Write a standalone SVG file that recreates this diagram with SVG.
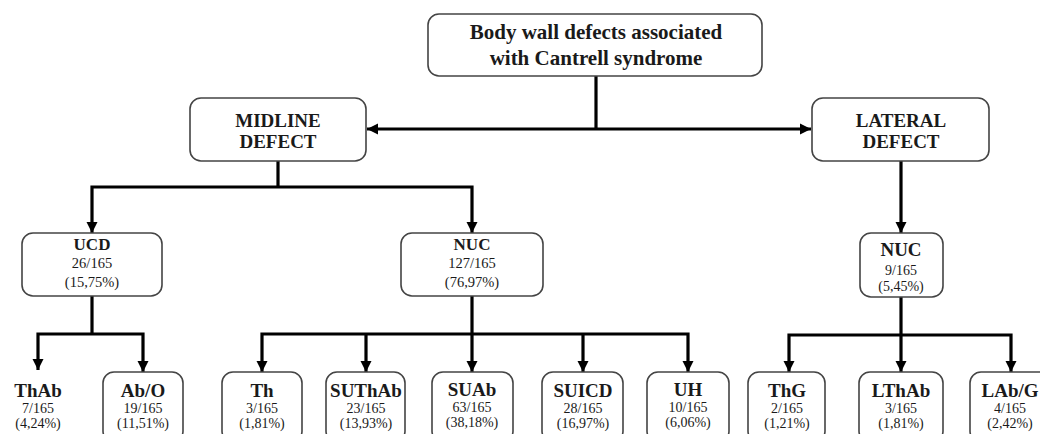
<svg xmlns="http://www.w3.org/2000/svg" width="1040" height="434" viewBox="0 0 1040 434">
<style>
.box{fill:#fff;stroke:#444;stroke-width:1.6}
.ln{fill:none;stroke:#000;stroke-width:3.2}
text{font-family:"Liberation Serif","Times New Roman",serif;fill:#1a1a1a;text-anchor:middle}
.h{font-weight:bold;font-size:21px}
.m{font-weight:bold;font-size:19px}
.u{font-weight:bold;font-size:17px}
.b{font-weight:bold;font-size:19px}
.n{font-size:14.5px}
.s{font-size:14px}
</style>
<defs>
<marker id="ah" markerUnits="userSpaceOnUse" markerWidth="12" markerHeight="12" refX="11" refY="6" orient="auto-start-reverse">
<path d="M0,0.5 L11,6 L0,11.5 z" fill="#000"/>
</marker>
</defs>
<rect width="1040" height="434" fill="#fff"/>
<g id="connectors">
<path class="ln" d="M596,76 V129"/>
<path class="ln" d="M367,129 H811" marker-start="url(#ah)" marker-end="url(#ah)"/>
<path class="ln" d="M278,161 V187"/>
<path class="ln" d="M92,233 V187 H472 V233" marker-start="url(#ah)" marker-end="url(#ah)"/>
<path class="ln" d="M901,161 V233" marker-end="url(#ah)"/>
<path class="ln" d="M92,296 V334"/>
<path class="ln" d="M38,370 V334 H143 V372" marker-start="url(#ah)" marker-end="url(#ah)"/>
<path class="ln" d="M472,296 V372" marker-end="url(#ah)"/>
<path class="ln" d="M262,372 V334 H688 V372" marker-start="url(#ah)" marker-end="url(#ah)"/>
<path class="ln" d="M366,334 V372" marker-end="url(#ah)"/>
<path class="ln" d="M583,334 V372" marker-end="url(#ah)"/>
<path class="ln" d="M901,297 V372" marker-end="url(#ah)"/>
<path class="ln" d="M789,372 V335 H1011 V372" marker-start="url(#ah)" marker-end="url(#ah)"/>
</g>
<g id="root">
<rect class="box" x="428" y="14" width="334" height="62" rx="11"/>
<text class="h" x="596" y="39">Body wall defects associated</text>
<text class="h" x="596" y="65">with Cantrell syndrome</text>
</g>
<g id="midline">
<rect class="box" x="190" y="98" width="176" height="63" rx="11"/>
<text class="m" x="278" y="127">MIDLINE</text>
<text class="m" x="278" y="148">DEFECT</text>
</g>
<g id="lateral">
<rect class="box" x="812" y="98" width="177" height="63" rx="11"/>
<text class="m" x="901" y="127">LATERAL</text>
<text class="m" x="901" y="148">DEFECT</text>
</g>
<g id="ucd">
<rect class="box" x="22" y="233" width="140" height="63" rx="11"/>
<text class="u" x="92" y="250">UCD</text>
<text class="n" x="92" y="268">26/165</text>
<text class="n" x="92" y="287">(15,75%)</text>
</g>
<g id="nuc-mid">
<rect class="box" x="401" y="233" width="142" height="63" rx="11"/>
<text class="u" x="472" y="250">NUC</text>
<text class="n" x="472" y="268">127/165</text>
<text class="n" x="472" y="287">(76,97%)</text>
</g>
<g id="nuc-lat">
<rect class="box" x="860" y="233" width="83" height="64" rx="11"/>
<text class="b" x="901" y="256">NUC</text>
<text class="s" x="901" y="275">9/165</text>
<text class="s" x="901" y="291">(5,45%)</text>
</g>
<g id="thab">
<text class="b" x="38" y="397">ThAb</text>
<text class="s" x="38" y="413">7/165</text>
<text class="s" x="38" y="428">(4,24%)</text>
</g>
<g id="abo">
<rect class="box" x="103" y="372" width="80" height="70" rx="11"/>
<text class="b" x="143" y="397">Ab/O</text>
<text class="s" x="143" y="413">19/165</text>
<text class="s" x="143" y="428">(11,51%)</text>
</g>
<g id="th">
<rect class="box" x="222" y="372" width="80" height="70" rx="11"/>
<text class="b" x="262" y="397">Th</text>
<text class="s" x="262" y="413">3/165</text>
<text class="s" x="262" y="428">(1,81%)</text>
</g>
<g id="suthab">
<rect class="box" x="326" y="372" width="79" height="70" rx="11"/>
<text class="b" x="366" y="397">SUThAb</text>
<text class="s" x="366" y="413">23/165</text>
<text class="s" x="366" y="428">(13,93%)</text>
</g>
<g id="suab">
<rect class="box" x="432" y="372" width="81" height="70" rx="11"/>
<text class="b" x="472" y="396">SUAb</text>
<text class="s" x="472" y="412">63/165</text>
<text class="s" x="472" y="427">(38,18%)</text>
</g>
<g id="suicd">
<rect class="box" x="542" y="372" width="81" height="70" rx="11"/>
<text class="b" x="583" y="397">SUICD</text>
<text class="s" x="583" y="413">28/165</text>
<text class="s" x="583" y="428">(16,97%)</text>
</g>
<g id="uh">
<rect class="box" x="647" y="372" width="82" height="70" rx="11"/>
<text class="b" x="688" y="396">UH</text>
<text class="s" x="688" y="412">10/165</text>
<text class="s" x="688" y="427">(6,06%)</text>
</g>
<g id="thg">
<rect class="box" x="748" y="372" width="77" height="70" rx="11"/>
<text class="b" x="787" y="397">ThG</text>
<text class="s" x="787" y="413">2/165</text>
<text class="s" x="787" y="428">(1,21%)</text>
</g>
<g id="lthab">
<rect class="box" x="859" y="372" width="84" height="70" rx="11"/>
<text class="b" x="901" y="397">LThAb</text>
<text class="s" x="901" y="413">3/165</text>
<text class="s" x="901" y="428">(1,81%)</text>
</g>
<g id="labg">
<rect class="box" x="970" y="372" width="82" height="70" rx="11"/>
<text class="b" x="1010" y="397">LAb/G</text>
<text class="s" x="1010" y="413">4/165</text>
<text class="s" x="1010" y="428">(2,42%)</text>
</g>
</svg>
